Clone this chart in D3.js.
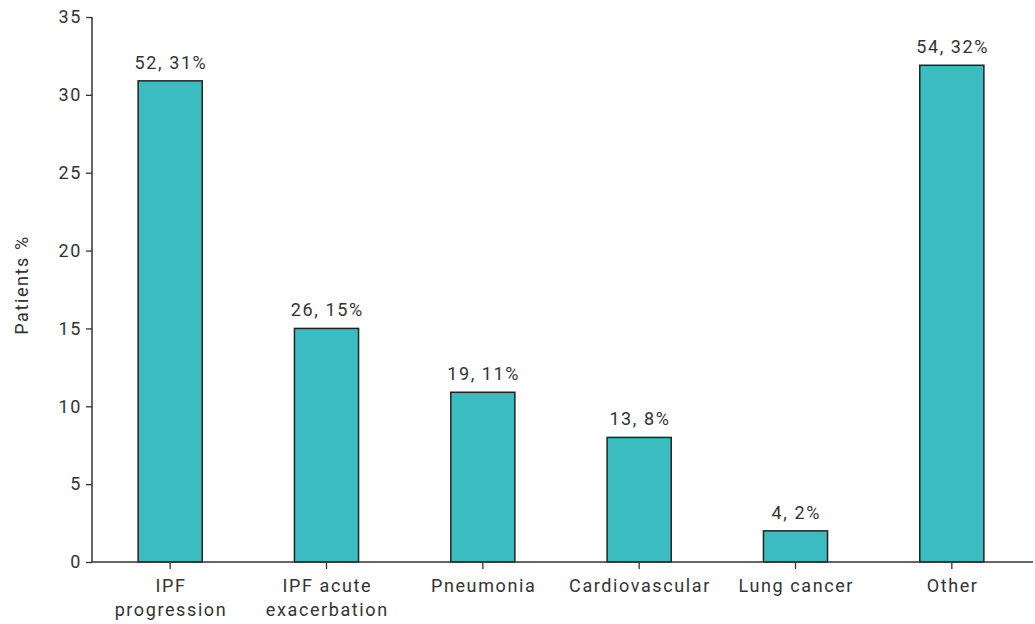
<!DOCTYPE html>
<html><head><meta charset="utf-8">
<script src="https://cdn.jsdelivr.net/npm/d3@7"></script>
<style>body{margin:0;background:#fff}svg{display:block}text{font-family:Roboto,"DejaVu Sans",sans-serif;fill:#333;letter-spacing:1.6px}</style>
</head><body><svg id="c" width="1035" height="624"></svg>
<script>
const categories = [["IPF","progression"],["IPF acute","exacerbation"],["Pneumonia"],["Cardiovascular"],["Lung cancer"],["Other"]];
const values = [30.9, 15.0, 10.9, 8.0, 2.0, 31.9];
const barLabels = ["52, 31%","26, 15%","19, 11%","13, 8%","4, 2%","54, 32%"];
const yTicks = [0,5,10,15,20,25,30,35];

const svg = d3.select("#c");
const x0 = 92, x1 = 1030, xEnd = 1033;
const y = d3.scaleLinear().domain([0,35]).range([562,17]);
const x = d3.scaleBand().domain(d3.range(categories.length)).range([x0,x1]).paddingInner(0.59).paddingOuter(0.295);
const ls = 0.8; // half letter-spacing compensation

// y axis
const ya = svg.append("g").attr("transform",`translate(${x0},0)`).call(d3.axisLeft(y).tickValues(yTicks).tickSize(6).tickPadding(4));
ya.select(".domain").attr("stroke","#333").attr("stroke-width",1.5).attr("d",`M-0,${y(35)}H0V${y(0)}`);
ya.selectAll(".tick line").attr("stroke","#333").attr("stroke-width",1.3);
ya.selectAll(".tick text").style("font-size","18px").attr("fill","#333").attr("dx",0);

// bars
svg.append("g").selectAll("rect").data(values).join("rect")
  .attr("x",(d,i)=>x(i)).attr("width",x.bandwidth())
  .attr("y",d=>y(d)).attr("height",d=>y(0)-y(d))
  .attr("fill","#3bbcc0").attr("stroke","#222").attr("stroke-width",1.5);

// value labels
svg.append("g").selectAll("text").data(values).join("text")
  .attr("x",(d,i)=>x(i)+x.bandwidth()/2+ls).attr("y",d=>y(d)-12)
  .attr("text-anchor","middle").style("font-size","18px").text((d,i)=>barLabels[i]);

// x axis
svg.append("line").attr("x1",x0).attr("x2",xEnd).attr("y1",y(0)).attr("y2",y(0)).attr("stroke","#333").attr("stroke-width",1.5);
const xg = svg.append("g");
categories.forEach((c,i)=>{
  const cx = x(i)+x.bandwidth()/2;
  xg.append("line").attr("x1",cx).attr("x2",cx).attr("y1",y(0)).attr("y2",y(0)+7).attr("stroke","#333").attr("stroke-width",1.3);
  const t = xg.append("text").attr("x",cx+ls).attr("y",y(0)+30).attr("text-anchor","middle").style("font-size","18px");
  c.forEach((line,j)=>t.append("tspan").attr("x",cx+ls).attr("dy",j===0?0:24).text(line));
});

// y title
svg.append("text").attr("transform","translate(28,285) rotate(-90)").attr("text-anchor","middle").style("font-size","18px").text("Patients %");
</script></body></html>
